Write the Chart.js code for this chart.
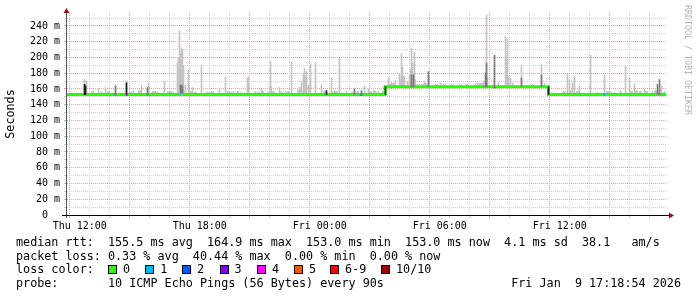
<!DOCTYPE html>
<html>
<head>
<meta charset="utf-8">
<script src="https://cdn.jsdelivr.net/npm/chart.js@4.4.1/dist/chart.umd.min.js"></script>
<style>
html, body { margin: 0; padding: 0; background: #fff; }
#wrap { position: relative; width: 697px; height: 297px; overflow: hidden; }
#c { position: absolute; left: 0; top: 0; }
.row { position: absolute; left: 16px; font: 11.75px "DejaVu Sans Mono", monospace; color: #000; white-space: pre; line-height: 14px; }
.box { position: absolute; width: 7px; height: 7px; border: 1px solid #000; }
.lab { position: absolute; }
#wm { position: absolute; left: 683px; top: 5px; writing-mode: vertical-rl; font: 8.3px "DejaVu Sans Mono", monospace; color: #b4b4b4; white-space: pre; }
</style>
</head>
<body>
<div id="wrap">
  <canvas id="c" width="697" height="297"></canvas>
  <div id="wm">RRDTOOL / TOBI OETIKER</div>
  <div class="row" id="r1" style="top:235px"></div>
  <div class="row" id="r2" style="top:248.5px"></div>
  <div class="row" id="r3" style="top:262px"></div>
  <div class="row" id="r4" style="top:276px"></div>
  <div class="row" id="r4b" style="top:276px;left:auto;right:16px"></div>
</div>
<script>
// times are hours counted from Thu 00:00, values in ms
var startHour = 11.36, endHour = 41.36;

// median rtt, as steps: value and loss count hold from each time to the next
var medianTimes  = [11.36, 13.66, 13.81, 14.31, 14.36, 15.36, 15.41, 17.03, 17.08, 26.01, 26.06, 26.11, 27.26, 32.71, 32.76, 35.43, 38.21, 38.26, 41.33];
var medianValues = [153,   153,   153,   153,   153,   153,   153,   153,   153,   153,   153,   153,   163,   163,   163,   153,   153,   153,   153];
var medianLoss   = [0,     1,     0,     3,     0,     4,     0,     1,     0,     1,     3,     0,     0,     3,     0,     0,     1,     0,     0];

// light smoke: top of the ping spread above the median
var smokeTimes = [
  12.235, 12.335, 12.935, 13.285, 13.785, 14.335, 14.685, 15.085, 15.435, 15.635,
  15.785, 16.235, 16.535, 16.885, 16.935, 16.985, 17.035, 17.085, 17.135, 17.185,
  17.285, 17.435, 17.635, 18.085, 18.535, 18.985, 19.285, 19.685, 20.035, 20.385,
  20.435, 20.785, 21.085, 21.535, 21.585, 21.985, 22.285, 22.585, 22.985, 23.085,
  23.185, 23.235, 23.285, 23.335, 23.435, 23.535, 23.785, 24.085, 24.585, 24.735,
  24.985, 25.335, 26.235, 26.435, 26.685, 26.935, 27.135, 27.435, 27.585, 27.785,
  27.985, 28.035, 28.085, 28.135, 28.185, 28.235, 28.385, 28.485, 28.535, 28.585,
  28.635, 28.685, 28.735, 28.785, 29.085, 29.235, 29.435, 29.685, 30.035, 30.585,
  31.085, 31.785, 31.885, 31.985, 32.185, 32.335, 32.385, 32.935, 33.285, 33.335,
  33.385, 33.435, 33.535, 33.635, 34.085, 34.635, 35.085, 35.235, 36.135, 36.385,
  36.485, 36.635, 36.735, 36.985, 37.535, 37.885, 38.235, 38.735, 39.035, 39.285,
  39.485, 39.735, 40.235, 40.635, 41.085, 41.235
];
var smokeHigh = [
  172, 170, 161, 162, 164, 168, 158, 165, 167, 157,
  157, 170, 157, 193, 200, 234, 205, 212, 210, 190,
  165, 184, 162, 190, 156, 160, 175, 157, 156, 174,
  175, 157, 160, 195, 163, 162, 157, 194, 162, 170,
  180, 186, 175, 182, 165, 191, 193, 165, 174, 158,
  200, 157, 164, 160, 157, 157, 157, 174, 168, 171,
  179, 172, 205, 188, 176, 176, 170, 178, 185, 212,
  193, 178, 207, 172, 166, 169, 182, 165, 168, 166,
  166, 167, 168, 167, 170, 254, 175, 168, 227, 200,
  223, 176, 174, 168, 190, 166, 191, 167, 156, 180,
  171, 168, 176, 164, 203, 156, 178, 156, 157, 189,
  174, 166, 159, 157, 164, 157
];

// small smoke bumps just above the median
var bumpTimes = [
  12.635, 13.085, 13.435, 14.535, 14.985, 15.685, 15.885, 16.435, 16.635, 17.535,
  17.785, 18.385, 18.635, 19.435, 19.535, 19.885, 20.935, 21.135, 21.435, 21.685,
  22.085, 22.435, 22.935, 23.035, 24.235, 24.635, 24.835, 25.635, 25.885, 26.535,
  26.735, 26.835, 27.535, 27.685, 28.935, 29.185, 29.285, 29.835, 30.235, 31.335,
  31.935, 32.085, 36.235, 36.585, 36.885, 38.385, 38.535, 39.585, 39.835, 40.035,
  40.335, 40.785
];
var bumpHigh = [
  157, 156, 157, 156, 158, 157, 156, 157, 156, 157,
  156, 156, 157, 157, 156, 157, 156, 157, 156, 157,
  156, 157, 158, 160, 157, 156, 157, 156, 157, 157,
  158, 156, 166, 167, 166, 166, 167, 166, 166, 166,
  166, 167, 157, 158, 157, 157, 156, 157, 158, 157,
  157, 158
];

// darker smoke (denser pings)
var darkTimes = [13.785, 15.385, 17.035, 17.085, 17.135, 25.735, 26.085, 28.585, 28.685, 29.435, 32.285, 32.335, 32.735, 34.085, 35.085, 40.885, 40.985];
var darkLow   = [153,    153,    155,    155,    155,    153,    153,    163,    163,    163,    163,    163,    163,    163,    163,    153,    153];
var darkHigh  = [164,    162,    165,    165,    163,    160,    158,    178,    178,    182,    180,    193,    203,    174,    178,    166,    172];

// near-black smoke at step changes and bursts
var blackTimes = [12.235, 12.285, 14.335, 24.335, 27.285, 35.435];
var blackLow   = [153,    153,    153,    153,    153,    153];
var blackHigh  = [166,    164,    168,    158,    163,    163];

var xLabelHours = [12, 18, 24, 30, 36];
var xLabels = ['Thu 12:00', 'Thu 18:00', 'Fri 00:00', 'Fri 06:00', 'Fri 12:00'];
var lossNames = ['0', '1', '2', '3', '4', '5', '6-9', '10/10'];
var lossColors = ['#26ff00', '#00b8ff', '#0059ff', '#7e00ff', '#ff00ff', '#ff5500', '#ff0000', '#a10000'];

var statsLine = 'median rtt:  155.5 ms avg  164.9 ms max  153.0 ms min  153.0 ms now  4.1 ms sd  38.1   am/s';
var lossLine = 'packet loss: 0.33 % avg  40.44 % max  0.00 % min  0.00 % now';
var probeLine = 'probe:       10 ICMP Echo Pings (56 Bytes) every 90s';
var stampLine = 'Fri Jan  9 17:18:54 2026';

function lossIndex(n) {
  if (n <= 5) return n;
  return n >= 10 ? 7 : 6;
}
function medianAt(t) {
  var v = medianValues[0];
  for (var i = 0; i < medianTimes.length; i++) {
    if (medianTimes[i] <= t) v = medianValues[i];
  }
  return v;
}
function bars(times, lows, highs) {
  return times.map(function (t, i) { return { x: t, y: [lows[i], highs[i]] }; });
}

var MAJOR = '#e2a4a4', MINOR = '#cdcdcd';

var axisArrows = {
  id: 'axisArrows',
  afterDraw: function (chart) {
    var a = chart.chartArea, ctx = chart.ctx;
    ctx.save();
    ctx.lineWidth = 1;
    ctx.strokeStyle = '#555';
    ctx.beginPath(); ctx.moveTo(a.left - 0.5, a.top - 4); ctx.lineTo(a.left - 0.5, a.bottom + 3); ctx.stroke();
    ctx.strokeStyle = '#000';
    ctx.beginPath(); ctx.moveTo(a.left - 5, a.bottom + 0.5); ctx.lineTo(a.right + 3, a.bottom + 0.5); ctx.stroke();
    ctx.fillStyle = '#9a1010';
    ctx.beginPath(); ctx.moveTo(a.left - 3.5, a.top); ctx.lineTo(a.left + 2.5, a.top); ctx.lineTo(a.left - 0.5, a.top - 5); ctx.fill();
    ctx.beginPath(); ctx.moveTo(a.right + 2, a.bottom - 2.5); ctx.lineTo(a.right + 2, a.bottom + 3.5); ctx.lineTo(a.right + 7, a.bottom + 0.5); ctx.fill();
    ctx.restore();
  }
};

var smokeLow = smokeTimes.map(medianAt);
var bumpLow = bumpTimes.map(medianAt);

new Chart(document.getElementById('c').getContext('2d'), {
  type: 'bar',
  data: {
    datasets: [
      { type: 'bar', data: bars(smokeTimes, smokeLow, smokeHigh), backgroundColor: '#c3c3c3', barThickness: 1, grouped: false, order: 5 },
      { type: 'bar', data: bars(bumpTimes, bumpLow, bumpHigh), backgroundColor: '#c3c3c3', barThickness: 2, grouped: false, order: 4 },
      { type: 'line', data: medianTimes.map(function (t, i) { return { x: t, y: medianValues[i] }; }),
        borderColor: lossColors[0], borderWidth: 3, pointRadius: 0, stepped: 'before', fill: false,
        segment: { borderColor: function (ctx) { return lossColors[lossIndex(medianLoss[ctx.p0DataIndex])]; } },
        order: 3 },
      { type: 'bar', data: bars(darkTimes, darkLow, darkHigh), backgroundColor: '#7a7a7a', barThickness: 1, grouped: false, order: 2 },
      { type: 'bar', data: bars(blackTimes, blackLow, blackHigh), backgroundColor: '#1c1c1c', barThickness: 1, grouped: false, order: 1 }
    ]
  },
  options: {
    responsive: false,
    devicePixelRatio: 1,
    animation: false,
    events: [],
    layout: { padding: { left: 0, right: 30, top: 13, bottom: 67 } },
    plugins: { legend: { display: false }, tooltip: { enabled: false } },
    scales: {
      x: {
        type: 'linear', min: startHour, max: endHour, offset: false,
        afterBuildTicks: function (s) {
          var t = [];
          for (var h = 12; h <= 41; h++) t.push({ value: h });
          s.ticks = t;
        },
        afterFit: function (s) { s.height = 15; },
        ticks: {
          autoSkip: false, maxRotation: 0, padding: 2, color: '#000',
          font: { family: 'DejaVu Sans Mono', size: 10 },
          callback: function (v) { var k = xLabelHours.indexOf(v); return k >= 0 ? xLabels[k] : ''; }
        },
        grid: {
          color: function (c) { return c.tick && c.tick.value % 3 === 0 ? MAJOR : MINOR; },
          tickColor: function (c) { return c.tick && c.tick.value % 3 === 0 ? MAJOR : MINOR; },
          tickLength: 3, lineWidth: 1
        },
        border: { display: false, dash: [1, 1] }
      },
      y: {
        min: 0, max: 256.5,
        afterBuildTicks: function (s) {
          var t = [];
          for (var v = 0; v <= 250; v += 10) t.push({ value: v });
          s.ticks = t;
        },
        afterFit: function (s) { s.width = 67; },
        ticks: {
          autoSkip: false, padding: 4, color: '#000',
          font: { family: 'DejaVu Sans Mono', size: 10 },
          callback: function (v) { return v % 20 !== 0 ? '' : (v === 0 ? '0  ' : v + ' m'); }
        },
        grid: {
          color: function (c) { return c.tick && c.tick.value % 20 === 0 ? MAJOR : MINOR; },
          tickColor: function (c) { return c.tick && c.tick.value % 20 === 0 ? MAJOR : MINOR; },
          tickLength: 3, lineWidth: 1
        },
        border: { display: false, dash: [1, 1] },
        title: { display: true, text: 'Seconds', color: '#000', padding: { top: 3.5, bottom: 0 },
                 font: { family: 'DejaVu Sans Mono', size: 11.75 } }
      }
    }
  },
  plugins: [axisArrows]
});

// text legend under the graph
document.getElementById('r1').textContent = statsLine;
document.getElementById('r2').textContent = lossLine;
document.getElementById('r4').textContent = probeLine;
document.getElementById('r4b').textContent = stampLine;
var r3 = document.getElementById('r3');
r3.textContent = 'loss color:';
var boxX = [92, 129.3, 166, 203.6, 241, 278, 314, 365];
lossNames.forEach(function (n, i) {
  var b = document.createElement('span');
  b.className = 'box';
  b.style.left = boxX[i] + 'px';
  b.style.top = '3px';
  b.style.background = lossColors[i];
  r3.appendChild(b);
  var l = document.createElement('span');
  l.className = 'lab';
  l.style.left = (boxX[i] + 15) + 'px';
  l.textContent = n;
  r3.appendChild(l);
});
</script>
</body>
</html>
